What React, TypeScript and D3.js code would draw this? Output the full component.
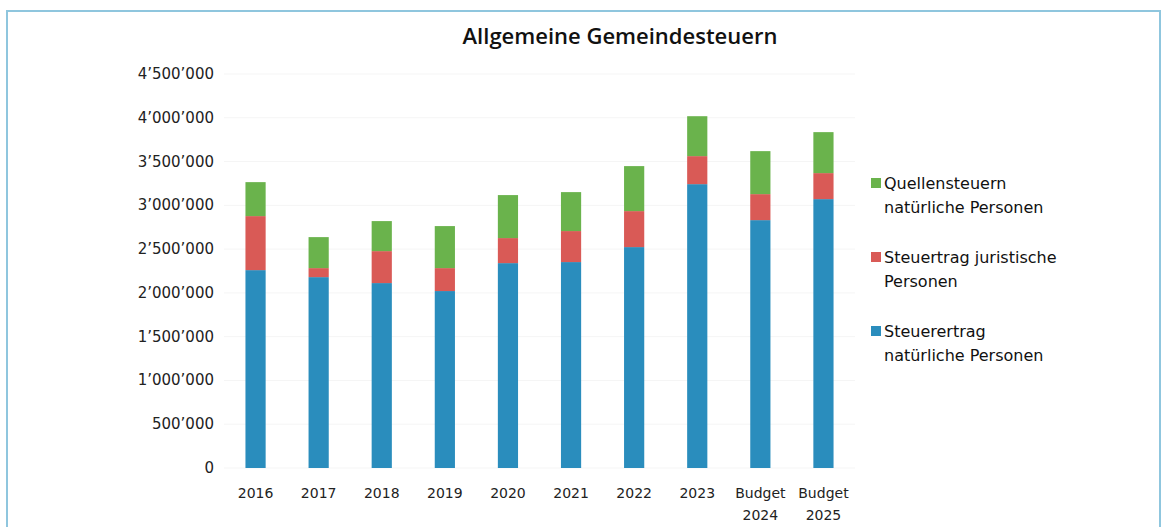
import React from "react";
import * as d3 from "d3";

const categories = ["2016", "2017", "2018", "2019", "2020", "2021", "2022", "2023", "Budget 2024", "Budget 2025"];
const natuerlich = [2260000, 2180000, 2112000, 2021000, 2340000, 2352000, 2523000, 3242000, 2831000, 3071000];
const juristisch = [617000, 103000, 365000, 262000, 286000, 354000, 411000, 320000, 297000, 297000];
const quellen = [388000, 354000, 343000, 480000, 491000, 445000, 514000, 456000, 491000, 468000];
const yTicks = [0, 500000, 1000000, 1500000, 2000000, 2500000, 3000000, 3500000, 4000000, 4500000];

const seriesKeys = ["nat", "jur", "que"];
const seriesColors: Record<string, string> = { nat: "#2a8dbd", jur: "#d95a56", que: "#6ab34c" };
const legendItems = [
  { key: "que", lines: ["Quellensteuern", "natürliche Personen"] },
  { key: "jur", lines: ["Steuertrag juristische", "Personen"] },
  { key: "nat", lines: ["Steuerertrag", "natürliche Personen"] },
];

const W = 1163, H = 527;
const M = { left: 224, right: 855, top: 74, bottom: 468 };

const fmt = (v: number) => d3.format(",")(v).replace(/,/g, "\u2019");

export default function App() {
  const x = d3.scaleBand().domain(categories).range([M.left, M.right]).paddingInner(0.68).paddingOuter(0.34);
  const y = d3.scaleLinear().domain([0, 4500000]).range([M.bottom, M.top]);
  const rows = categories.map((c, i) => ({ cat: c, nat: natuerlich[i], jur: juristisch[i], que: quellen[i] }));
  const stacked = d3.stack<any>().keys(seriesKeys)(rows);
  const font = "'DejaVu Sans', sans-serif";
  return (
    <svg width={W} height={H} style={{ position: "absolute", left: 0, top: 0, background: "#fff" }} fontFamily={font}>
      <rect x={7} y={11} width={1153} height={530} fill="none" stroke="#8fc6de" strokeWidth={2} />
      <text x={620} y={44} textAnchor="middle" fontSize={22} fontWeight={600} fill="#111" fontFamily="'Open Sans', sans-serif">
        Allgemeine Gemeindesteuern
      </text>
      {yTicks.map((t) => (
        <g key={t}>
          <line x1={M.left} x2={M.right} y1={y(t)} y2={y(t)} stroke="#f5f5f5" strokeWidth={1} />
          <text x={214} y={y(t) + 5} textAnchor="end" fontSize={15} fill="#222">
            {fmt(t)}
          </text>
        </g>
      ))}
      {stacked.map((s) => (
        <g key={s.key} fill={seriesColors[s.key]}>
          {s.map((d, i) => (
            <rect key={i} x={x(categories[i])!} width={x.bandwidth()} y={y(d[1])} height={y(d[0]) - y(d[1])} />
          ))}
        </g>
      ))}
      {categories.map((c) => {
        const parts = c.split(" ");
        const cx = x(c)! + x.bandwidth() / 2;
        return (
          <text key={c} x={cx} textAnchor="middle" fontSize={14} fill="#222">
            {parts.map((p, j) => (
              <tspan key={j} x={cx} y={498 + j * 22}>
                {p}
              </tspan>
            ))}
          </text>
        );
      })}
      {legendItems.map((it, i) => {
        const y0 = 189 + i * 74;
        return (
          <g key={it.key}>
            <rect x={871} y={y0 - 11} width={10} height={10} fill={seriesColors[it.key]} />
            {it.lines.map((l, j) => (
              <text key={j} x={884} y={y0 + j * 24} fontSize={16} fill="#111">
                {l}
              </text>
            ))}
          </g>
        );
      })}
    </svg>
  );
}
